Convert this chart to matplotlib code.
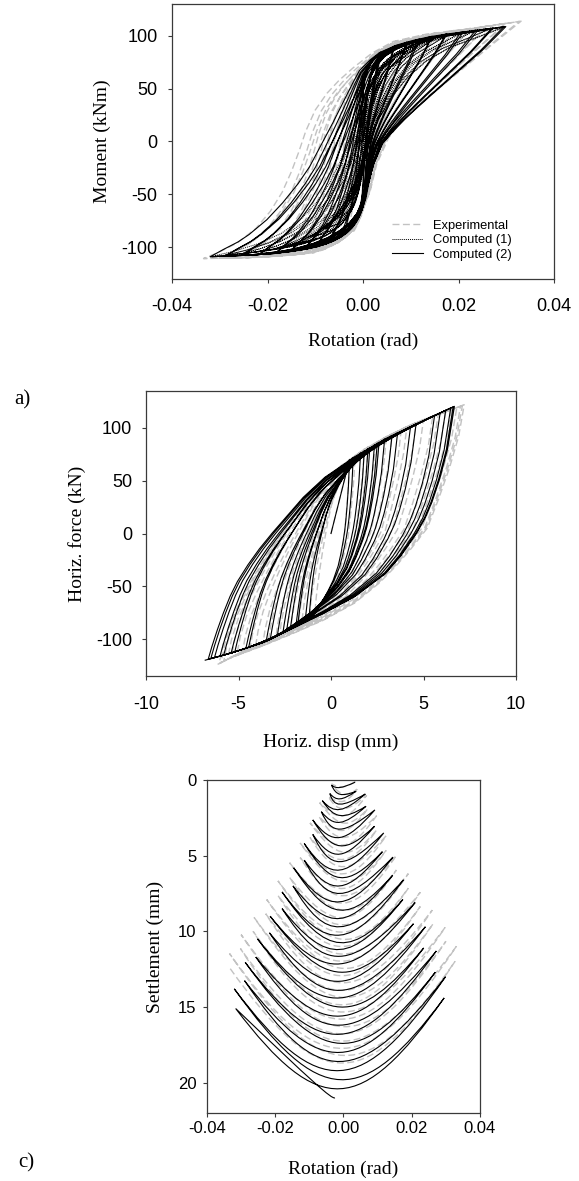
import numpy as np
import matplotlib
matplotlib.use("Agg")
import matplotlib.pyplot as plt
from matplotlib.path import Path
from matplotlib.patches import PathPatch
from matplotlib.lines import Line2D

plt.rcParams["font.family"] = "Liberation Sans"
plt.rcParams["axes.unicode_minus"] = False

# ---------------------------------------------------------------------------
# a) moment vs rotation -- outer loop branches
#    (up = upper-left ascending branch, dn = lower-right descending branch)
# ---------------------------------------------------------------------------
a2_up_rot = [-0.0318, -0.0290, -0.0260, -0.0237, -0.0200, -0.0167, -0.0135, -0.0111, -0.0083,
             -0.0062, -0.0042, -0.0020, -0.0007, 0.0015, 0.0035, 0.0070, 0.0105,
             0.0140, 0.0175, 0.0210, 0.0245, 0.0294]
a2_up_mom = [-109, -102, -95, -88, -74, -58, -40, -24, 0, 18, 36, 56, 67, 77, 84, 91, 95.5,
             99, 101.5, 103.5, 105, 108.5]
a2_dn_rot = [-0.0318, -0.0280, -0.0244, -0.0210, -0.0174, -0.0140, -0.0105, -0.0075,
             -0.0049, -0.0030, -0.0014, 0.0000, 0.0007, 0.0021, 0.0039, 0.0063, 0.0085,
             0.0105, 0.0140, 0.0175, 0.0210, 0.0245, 0.0294]
a2_dn_mom = [-109, -108.3, -107.6, -106, -104, -101, -96.5, -91, -84, -77, -68, -55, -43,
             -20.8, -1.9, 10.7, 21, 29.6, 44, 58, 72, 86, 108.5]

a1_up_rot = [-0.0318, -0.0270, -0.0220, -0.0170, -0.0130, -0.0095, -0.0070, -0.0050,
             -0.0035, -0.0020, -0.0005, 0.0015, 0.0040, 0.0080, 0.0130, 0.0180, 0.0240, 0.0294]
a1_up_mom = [-109, -104, -97, -87, -74, -57, -40, -22, -5, 14, 33, 52, 68, 83, 94, 101,
             105.5, 108.5]
a1_dn_rot = [-0.0318, -0.0250, -0.0190, -0.0140, -0.0100, -0.0065, -0.0040, -0.0020,
             -0.0003, 0.0012, 0.0030, 0.0055, 0.0090, 0.0130, 0.0180, 0.0240, 0.0294]
a1_dn_mom = [-109, -106, -102, -96, -87, -74, -58, -40, -20, 0, 20, 40, 60, 76, 89, 99, 108.5]

ae_up_rot = [-0.0331, -0.0300, -0.0260, -0.0220, -0.0190, -0.0165, -0.0145, -0.0130,
             -0.0115, -0.0095, -0.0070, -0.0045, -0.0015, 0.0025, 0.0070, 0.0140, 0.0245, 0.0336]
ae_up_mom = [-110.7, -105, -96, -82, -66, -48, -28, -10, 10, 30, 46, 58, 70, 84, 95, 102,
             108, 114]
ae_dn_rot = [-0.0331, -0.0258, -0.0174, -0.0104, -0.0060, -0.0035, -0.0015, 0.0000,
             0.0021, 0.0035, 0.0060, 0.0091, 0.0140, 0.0210, 0.0280, 0.0340]
ae_dn_mom = [-110.7, -110, -107.6, -99.7, -92, -87, -80, -71, -49, -24, 0, 17, 36, 61, 86, 107]

# ---------------------------------------------------------------------------
# cycle reversal points (20 cycles), shared by a) and c)
# ---------------------------------------------------------------------------
cmp_rot_pos = [0.0034, 0.0037, 0.0064, 0.0066, 0.0092, 0.0091, 0.0118, 0.0114, 0.0145, 0.0144,
               0.0176, 0.0174, 0.0210, 0.0205, 0.0240, 0.0235, 0.0272, 0.0269, 0.0299, 0.0295]
cmp_rot_neg = [-0.0035, -0.0040, -0.0062, -0.0065, -0.0090, -0.0090, -0.0115, -0.0115,
               -0.0146, -0.0148, -0.0180, -0.0180, -0.0215, -0.0217, -0.0252, -0.0257,
               -0.0288, -0.0290, -0.0320, -0.0316]
exp_rot_pos = [0.0035, 0.0040, 0.0068, 0.0070, 0.0097, 0.0097, 0.0125, 0.0125, 0.0155, 0.0155,
               0.0190, 0.0190, 0.0225, 0.0225, 0.0260, 0.0262, 0.0298, 0.0300, 0.0331, 0.0327]
exp_rot_neg = [-0.0035, -0.0045, -0.0070, -0.0072, -0.0098, -0.0098, -0.0127, -0.0127,
               -0.0158, -0.0158, -0.0192, -0.0192, -0.0225, -0.0228, -0.0262, -0.0265,
               -0.0300, -0.0302, -0.0334, -0.0334]

# ---------------------------------------------------------------------------
# b) horizontal force vs horizontal displacement
# ---------------------------------------------------------------------------
b2_up_disp = [-6.80, -6.60, -6.30, -5.97, -5.60, -5.20, -4.62, -4.00, -3.30, -2.50, -1.60,
              -0.42, 1.26, 2.94, 4.60, 5.60, 6.67]
b2_up_force = [-120, -108, -92, -76, -60, -46, -30, -15, 0, 16, 34, 53, 73, 90, 104, 112, 120.5]
b2_dn_disp = [-6.80, -5.46, -3.78, -2.10, -0.42, 1.26, 2.94, 3.78, 4.62, 5.10, 5.46, 5.88,
              6.30, 6.67]
b2_dn_force = [-120, -113.6, -104, -90, -75.7, -60, -38, -21, 0, 15, 30, 52, 80, 120.5]
be_up_disp = [-6.13, -5.90, -5.50, -4.90, -4.20, -3.40, -2.50, -1.60, -0.60, 0.50, 1.70, 3.00,
              4.30, 5.60, 6.60, 7.20]
be_up_force = [-124, -105, -84, -62, -40, -17, 6, 28, 48, 64, 79, 92, 103, 112, 118, 122]
be_dn_disp = [-6.13, -5.46, -3.78, -2.10, -0.40, 1.26, 2.60, 3.50, 4.30, 5.20, 5.80, 6.40, 6.90,
              7.20]
be_dn_force = [-124, -118, -107, -95, -82, -66, -47, -31, -15, 5, 32, 62, 92, 122]

b2_disp_pos = [1.0, 1.2, 1.6, 1.8, 2.0, 2.1, 2.35, 2.5, 2.6, 2.9, 3.3, 3.6, 4.3, 4.6, 5.6, 5.9,
               6.2, 6.47, 6.6, 6.67]
b2_disp_neg = [-1.2, -1.4, -1.8, -1.9, -2.2, -2.4, -2.6, -2.9, -3.28, -3.5, -4.45, -4.6, -5.2,
               -5.4, -5.8, -6.0, -6.3, -6.5, -6.64, -6.8]
be_disp_pos = [1.0, 1.3, 1.8, 2.0, 2.4, 2.6, 3.0, 3.3, 3.8, 4.1, 4.6, 5.0, 5.5, 5.8, 6.2, 6.5,
               6.8, 7.0, 7.1, 7.2]
be_disp_neg = [-0.9, -1.2, -1.6, -1.8, -2.2, -2.4, -2.8, -3.0, -3.4, -3.7, -4.1, -4.4, -4.8,
               -5.1, -5.4, -5.6, -5.8, -5.95, -6.05, -6.13]

# ---------------------------------------------------------------------------
# c) settlement at the reversal points and at the bottom of each swing
# ---------------------------------------------------------------------------
cmp_set_pos = [0.15, 0.75, 0.93, 1.74, 1.98, 3.06, 3.5, 4.74, 5.1, 6.3, 6.6, 7.9, 8.1, 9.5,
               9.7, 11.1, 11.3, 12.7, 13.0, 14.4]
cmp_set_neg = [0.35, 0.9, 1.37, 2.1, 2.64, 3.6, 4.2, 5.3, 5.8, 7.0, 7.4, 8.5, 9.0, 10.1,
               10.5, 11.7, 12.05, 13.26, 13.8, 15.1]
cmp_set_bottom = [0.5, 0.95, 1.25, 1.6, 1.95, 2.35, 2.8, 3.25, 3.8, 4.35, 4.9, 5.4, 5.95, 6.45,
                  7.0, 7.5, 8.05, 8.6, 9.15, 9.7, 10.25, 10.75, 11.2, 11.65, 12.15, 12.7, 13.3,
                  13.9, 14.4, 15.0, 15.6, 16.2, 16.8, 17.4, 18.0, 18.6, 19.2, 19.8, 20.4]
cmp_bottom_rot = -0.001
cmp_tail_mid = (-0.009, 19.9)
cmp_tail_end = (-0.0025, 21.0)

exp_set_pos = [0.1, 0.61, 1.02, 1.93, 2.36, 3.32, 3.69, 4.65, 4.99, 5.95, 6.19, 7.15, 7.42,
               8.36, 8.6, 9.52, 9.74, 10.66, 10.99, 11.98]
exp_set_neg = [0.27, 1.09, 1.5, 2.41, 2.84, 3.8, 4.17, 5.13, 5.47, 6.43, 6.67, 7.63, 7.9,
               8.84, 9.08, 10.0, 10.22, 11.14, 11.47, 12.4]
exp_set_bottom = [0.45, 0.93, 1.41, 1.9, 2.37, 2.85, 3.33, 3.8, 4.3, 4.77, 5.25, 5.73, 6.2,
                  6.7, 7.17, 7.65, 8.13, 8.6, 9.1, 9.57, 10.05, 10.53, 11.0, 11.5, 11.97,
                  12.45, 12.93, 13.4, 13.9, 14.37, 14.85, 15.33, 15.8, 16.3, 16.77, 17.25,
                  17.73, 18.2, 18.7]
exp_bottom_rot = 0.0

GREY = "#c2c2c2"
DASH = (5, 2.5)
FRAME = "#3a3a3a"
SERIF = "Liberation Serif"


def remap(xs, ys, start, end):
    """Stretch a read-off branch so that it runs from start to end."""
    xs = np.asarray(xs, float)
    ys = np.asarray(ys, float)
    sx = (end[0] - start[0]) / (xs[-1] - xs[0])
    sy = (end[1] - start[1]) / (ys[-1] - ys[0])
    return start[0] + (xs - xs[0]) * sx, start[1] + (ys - ys[0]) * sy


def hysteresis(up_x, up_y, dn_x, dn_y, pos, neg):
    """Chain descending / ascending branches through the cycle peaks."""
    pos_y = np.interp(pos, up_x, up_y)
    neg_y = np.interp(neg, dn_x, dn_y)
    xs, ys = [0.0], [0.0]
    last = None
    for p, py, n, ny in zip(pos, pos_y, neg, neg_y):
        if last is None:
            xs.append(p); ys.append(py)
        else:
            bx, by = remap(up_x, up_y, last, (p, py))
            xs.extend(bx[1:]); ys.extend(by[1:])
        bx, by = remap(dn_x, dn_y, (n, ny), (p, py))
        xs.extend(bx[::-1][1:]); ys.extend(by[::-1][1:])
        last = (n, ny)
    return np.array(xs), np.array(ys)


def swings(rot_pos, set_pos, rot_neg, set_neg, bottoms, bottom_rot, tail=None, k=0.8):
    """U-shaped settlement swings between reversal points, as cubic Beziers."""
    tips = []
    for r, sr, l, sl in zip(rot_pos, set_pos, rot_neg, set_neg):
        tips += [(r, sr), (l, sl)]
    mids = [(bottom_rot, s) for s in bottoms]
    if tail is not None:
        tips.append(tail[1])
        mids.append(tail[0])
    verts = [tips[0]]
    for a, b, m in zip(tips[:-1], tips[1:], mids):
        A, B, P = np.array(a), np.array(b), np.array(m)
        V = (8 * P - (4 - 3 * k) * (A + B)) / (6 * k)
        verts += [A + k * (V - A), B + k * (V - B), B]
    codes = [Path.MOVETO] + [Path.CURVE4] * (len(verts) - 1)
    return Path(verts, codes)


def style(ax, xpad, ypad, size):
    for s in ax.spines.values():
        s.set_color(FRAME)
        s.set_linewidth(0.9)
    ax.tick_params(direction="out", length=3, width=0.8, color=FRAME, labelsize=size,
                   top=False, right=False)
    ax.tick_params(axis="x", pad=xpad)
    ax.tick_params(axis="y", pad=ypad)


fig = plt.figure(figsize=(5.79, 11.81), dpi=100)

# ----------------------------- a) ------------------------------------------
ax = fig.add_axes([0.2971, 0.7638, 0.6598, 0.2329])
x, y = hysteresis(ae_up_rot, ae_up_mom, ae_dn_rot, ae_dn_mom, exp_rot_pos, exp_rot_neg)
ax.plot(x, y, color=GREY, lw=1.0, dashes=DASH, zorder=1)
x, y = hysteresis(a1_up_rot, a1_up_mom, a1_dn_rot, a1_dn_mom, cmp_rot_pos, cmp_rot_neg)
ax.plot(x, y, color="black", lw=0.7, dashes=(1, 1), zorder=2)
x, y = hysteresis(a2_up_rot, a2_up_mom, a2_dn_rot, a2_dn_mom, cmp_rot_pos, cmp_rot_neg)
ax.plot(x, y, color="black", lw=0.8, zorder=3)
ax.set_xlim(-0.04, 0.04)
ax.set_ylim(-130, 130)
ax.set_xticks([-0.04, -0.02, 0.0, 0.02, 0.04])
ax.set_xticklabels(["-0.04", "-0.02", "0.00", "0.02", "0.04"])
ax.set_yticks([-100, -50, 0, 50, 100])
style(ax, 11, 7.5, 13)
ax.set_xlabel("Rotation (rad)", fontfamily=SERIF, fontsize=14)
ax.set_ylabel("Moment (kNm)", fontfamily=SERIF, fontsize=14)
ax.xaxis.set_label_coords(0.5, -0.2255)
ax.yaxis.set_label_coords(-0.182, 0.5)
ax.xaxis.label.set_va("center")
ax.yaxis.label.set_va("center")
handles = [Line2D([], [], color=GREY, lw=1.0, dashes=DASH),
           Line2D([], [], color="black", lw=0.7, dashes=(1, 1)),
           Line2D([], [], color="black", lw=0.8)]
ax.legend(handles, ["Experimental", "Computed (1)", "Computed (2)"], loc="upper left",
          bbox_to_anchor=(0.576, 0.216), frameon=False, fontsize=9.3, borderpad=0,
          borderaxespad=0, handlelength=2.4, handletextpad=0.8, labelspacing=0.2)

# ----------------------------- b) ------------------------------------------
ax = fig.add_axes([0.2522, 0.4276, 0.6390, 0.2413])
x, y = hysteresis(be_up_disp, be_up_force, be_dn_disp, be_dn_force, be_disp_pos, be_disp_neg)
ax.plot(x, y, color=GREY, lw=1.0, dashes=DASH, zorder=1)
x, y = hysteresis(b2_up_disp, b2_up_force, b2_dn_disp, b2_dn_force, b2_disp_pos, b2_disp_neg)
ax.plot(x, y, color="black", lw=0.8, zorder=3)
ax.set_xlim(-10, 10)
ax.set_ylim(-135, 135)
ax.set_xticks([-10, -5, 0, 5, 10])
ax.set_yticks([-100, -50, 0, 50, 100])
style(ax, 11.5, 7, 13)
ax.set_xlabel("Horiz. disp (mm)", fontfamily=SERIF, fontsize=14)
ax.set_ylabel("Horiz. force (kN)", fontfamily=SERIF, fontsize=14)
ax.xaxis.set_label_coords(0.5, -0.2316)
ax.yaxis.set_label_coords(-0.1865, 0.5)
ax.xaxis.label.set_va("center")
ax.yaxis.label.set_va("center")

# ----------------------------- c) ------------------------------------------
ax = fig.add_axes([0.3575, 0.0576, 0.4715, 0.2820])
ax.add_patch(PathPatch(swings(exp_rot_pos, exp_set_pos, exp_rot_neg, exp_set_neg,
                              exp_set_bottom, exp_bottom_rot),
                       fill=False, ec=GREY, lw=1.0, linestyle=(0, DASH), zorder=1))
ax.add_patch(PathPatch(swings(cmp_rot_pos, cmp_set_pos, cmp_rot_neg, cmp_set_neg,
                              cmp_set_bottom, cmp_bottom_rot,
                              tail=(cmp_tail_mid, cmp_tail_end)),
                       fill=False, ec="black", lw=0.8, zorder=3))
ax.set_xlim(-0.04, 0.04)
ax.set_ylim(22, 0)
ax.set_xticks([-0.04, -0.02, 0.0, 0.02, 0.04])
ax.set_xticklabels(["-0.04", "-0.02", "0.00", "0.02", "0.04"])
ax.set_yticks([0, 5, 10, 15, 20])
style(ax, 3, 4.5, 12)
ax.set_xlabel("Rotation (rad)", fontfamily=SERIF, fontsize=14)
ax.set_ylabel("Settlement (mm)", fontfamily=SERIF, fontsize=14)
ax.xaxis.set_label_coords(0.5, -0.168)
ax.yaxis.set_label_coords(-0.1905, 0.5)
ax.xaxis.label.set_va("center")
ax.yaxis.label.set_va("center")

fig.text(22 / 579, 1 - 400 / 1181, "a)", fontfamily=SERIF, fontsize=15, ha="center", va="center")
fig.text(26 / 579, 1 - 1163 / 1181, "c)", fontfamily=SERIF, fontsize=15, ha="center", va="center")

fig.savefig("out.png", dpi=100)
